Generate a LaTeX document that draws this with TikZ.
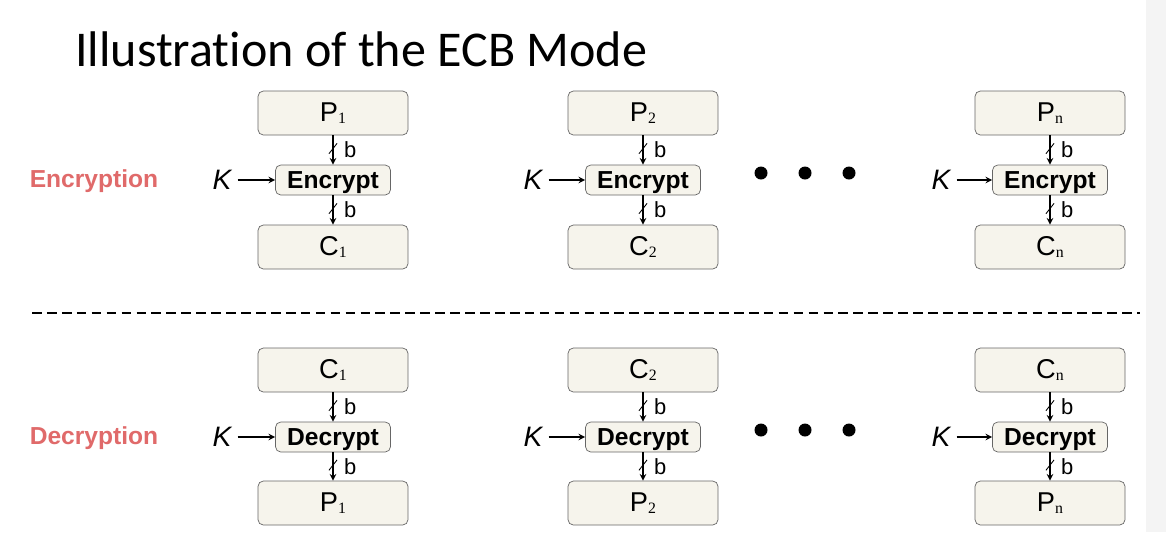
\documentclass[tikz,border=0pt]{standalone}
\usepackage{fontspec}
\setmainfont{Liberation Sans}
\newfontfamily\titlefont[Ligatures=NoCommon]{Carlito}
\newfontfamily\subfont{Liberation Serif}
\newcommand{\idx}[1]{\raisebox{-0.8pt}{\subfont\fontsize{9}{10}\selectfont #1}}
\definecolor{boxfill}{HTML}{F6F4EC}
\definecolor{boxline}{HTML}{666666}
\definecolor{rowred}{HTML}{E06A6A}
\definecolor{edgegray}{HTML}{F4F4F4}

\begin{document}
\begin{tikzpicture}[x=0.02cm, y=-0.02cm, >=stealth,
    blk/.style={draw=boxline, fill=boxfill, rounded corners=3pt, minimum width=3cm, minimum height=0.88cm, inner sep=0pt, font=\fontsize{15.5}{17}\selectfont},
    op/.style={draw=boxline, fill=boxfill, rounded corners=3pt, minimum width=2.3cm, minimum height=0.6cm, inner sep=0pt, text height=10pt, text depth=0pt, font=\fontsize{14}{16}\selectfont\bfseries},
    key/.style={font=\fontsize{16}{18}\selectfont\itshape},
    row/.style={font=\fontsize{14}{16}\selectfont\bfseries, text=rowred},
    bus/.style={draw, minimum width=7.5pt, minimum height=0pt, inner sep=0pt, rotate=52, line width=0.5pt, pos=0.45},
    bit/.style={right=6pt, inner sep=0pt, font=\fontsize{12.5}{14}\selectfont},
    arr/.style={->, line width=0.7pt},
    dot/.style={circle, fill=black, inner sep=0pt, minimum size=0.26cm}]
        \useasboundingbox (0,0) rectangle (1166,532);
        \fill[edgegray] (1146,0) rectangle (1166,532);
        % title
        \node[anchor=base west, inner sep=0pt, font=\titlefont\fontsize{28.5}{32}\selectfont] (title) at (75,66) {Illustration of the ECB Mode};
        % encryption
        \node[row] (enc) at (94,181) {Encryption};
        \node[blk] (p1) at (333,113) {P\idx{1}};
        \node[op] (e1) at (333,180) {Encrypt};
        \node[blk] (c1) at (333,247) {C\idx{1}};
        \node[key] (k1) at (222,180) {K};
        \draw[arr] (p1) -- node[bus]{} node[bit]{b} (e1);
        \draw[arr] (e1) -- node[bus]{} node[bit]{b} (c1);
        \draw[arr] (k1) -- (e1);
        \node[blk] (p2) at (643,113) {P\idx{2}};
        \node[op] (e2) at (643,180) {Encrypt};
        \node[blk] (c2) at (643,247) {C\idx{2}};
        \node[key] (k2) at (533,180) {K};
        \draw[arr] (p2) -- node[bus]{} node[bit]{b} (e2);
        \draw[arr] (e2) -- node[bus]{} node[bit]{b} (c2);
        \draw[arr] (k2) -- (e2);
        \node[dot] (ed1) at (761,173) {};
        \node[dot] (ed2) at (805,173) {};
        \node[dot] (ed3) at (849,173) {};
        \node[blk] (pn) at (1050,113) {P\idx{n}};
        \node[op] (en) at (1050,180) {Encrypt};
        \node[blk] (cn) at (1050,247) {C\idx{n}};
        \node[key] (kn) at (941,180) {K};
        \draw[arr] (pn) -- node[bus]{} node[bit]{b} (en);
        \draw[arr] (en) -- node[bus]{} node[bit]{b} (cn);
        \draw[arr] (kn) -- (en);
        % separator
        \draw[line width=1.1pt, dash pattern=on 5.5pt off 3pt] (32,313) -- (1140,313);
        % decryption
        \node[row] (dec) at (94,438) {Decryption};
        \node[blk] (dc1) at (333,370) {C\idx{1}};
        \node[op] (d1) at (333,437) {Decrypt};
        \node[blk] (dp1) at (333,503) {P\idx{1}};
        \node[key] (dk1) at (222,437) {K};
        \draw[arr] (dc1) -- node[bus]{} node[bit]{b} (d1);
        \draw[arr] (d1) -- node[bus]{} node[bit]{b} (dp1);
        \draw[arr] (dk1) -- (d1);
        \node[blk] (dc2) at (643,370) {C\idx{2}};
        \node[op] (d2) at (643,437) {Decrypt};
        \node[blk] (dp2) at (643,503) {P\idx{2}};
        \node[key] (dk2) at (533,437) {K};
        \draw[arr] (dc2) -- node[bus]{} node[bit]{b} (d2);
        \draw[arr] (d2) -- node[bus]{} node[bit]{b} (dp2);
        \draw[arr] (dk2) -- (d2);
        \node[dot] (dd1) at (761,430) {};
        \node[dot] (dd2) at (805,430) {};
        \node[dot] (dd3) at (849,430) {};
        \node[blk] (dcn) at (1050,370) {C\idx{n}};
        \node[op] (dn) at (1050,437) {Decrypt};
        \node[blk] (dpn) at (1050,503) {P\idx{n}};
        \node[key] (dkn) at (941,437) {K};
        \draw[arr] (dcn) -- node[bus]{} node[bit]{b} (dn);
        \draw[arr] (dn) -- node[bus]{} node[bit]{b} (dpn);
        \draw[arr] (dkn) -- (dn);
\end{tikzpicture}
\end{document}
